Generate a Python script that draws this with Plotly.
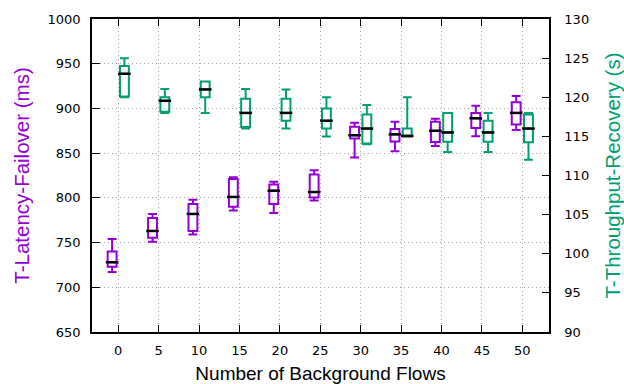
import plotly.graph_objects as go

flows = [0, 5, 10, 15, 20, 25, 30, 35, 40, 45, 50]

# T-Latency-Failover (ms), left axis
lat_low = [717, 751, 759, 786, 783, 797, 845, 852, 858, 869, 876]
lat_q1 = [723, 755.5, 763, 790, 793, 800.5, 866.5, 863, 862.5, 878, 882]
lat_med = [728, 763, 782, 801, 808, 806.5, 870, 871, 875, 889, 895]
lat_q3 = [740, 777.5, 793, 821, 815, 826, 879.5, 877, 885, 895, 907]
lat_high = [754, 782, 798, 823, 818, 831, 884, 885, 888.5, 903, 914]

# T-Throughput-Recovery (s), right axis
thr_low = [120.0, 118.0, 118.0, 116.0, 116.0, 115.0, 114.0, 115.0, 113.0, 113.0, 112.0]
thr_q1 = [120.1, 118.15, 120.0, 116.2, 117.0, 116.0, 114.1, 115.0, 114.3, 114.3, 114.25]
thr_med = [123.0, 119.55, 121.0, 118.0, 118.0, 117.0, 116.0, 115.05, 115.5, 115.5, 116.0]
thr_q3 = [124.0, 120.0, 122.0, 119.8, 119.8, 118.55, 117.8, 116.0, 118.0, 117.0, 117.8]
thr_high = [125.0, 121.05, 122.0, 121.05, 121.0, 120.0, 119.0, 120.0, 118.0, 118.0, 118.0]

PURPLE = "#9400D3"
GREEN = "#009E73"
OFF = 0.76
W = 1.1

x_lat = [f - OFF for f in flows]
x_thr = [f + OFF for f in flows]

fig = go.Figure()
fig.add_trace(go.Box(
    x=x_lat, q1=lat_q1, median=lat_med, q3=lat_q3,
    lowerfence=lat_low, upperfence=lat_high,
    width=W, whiskerwidth=1, line=dict(color=PURPLE, width=2),
    fillcolor="rgba(255,255,255,0)", yaxis="y", showlegend=False,
    hoverinfo="skip"))
fig.add_trace(go.Box(
    x=x_thr, q1=thr_q1, median=thr_med, q3=thr_q3,
    lowerfence=thr_low, upperfence=thr_high,
    width=W, whiskerwidth=1, line=dict(color=GREEN, width=2),
    fillcolor="rgba(255,255,255,0)", yaxis="y2", showlegend=False,
    hoverinfo="skip"))
fig.add_trace(go.Scatter(
    x=x_lat, y=lat_med, mode="markers", yaxis="y", showlegend=False,
    hoverinfo="skip",
    marker=dict(symbol="line-ew", size=9, line=dict(color="black", width=2.5))))
fig.add_trace(go.Scatter(
    x=x_thr, y=thr_med, mode="markers", yaxis="y2", showlegend=False,
    hoverinfo="skip",
    marker=dict(symbol="line-ew", size=9, line=dict(color="black", width=2.5))))

tickfont = dict(family="DejaVu Sans", size=13, color="black")
grid = dict(showgrid=True, gridcolor="#a8a8a8", griddash="1px,3px", gridwidth=1)
fig.update_layout(
    width=624, height=384,
    margin=dict(l=92, r=75, t=19, b=52, autoexpand=False),
    plot_bgcolor="white", paper_bgcolor="white",
    xaxis=dict(
        range=[-3.25, 53.3], tickmode="array", tickvals=flows,
        ticktext=[str(f) for f in flows],
        ticks="inside", ticklen=7, tickcolor="black", ticklabelstandoff=6,
        showline=True, linecolor="black", linewidth=1.5, mirror="ticks",
        zeroline=False, tickfont=tickfont, automargin=False,
        title=dict(text="Number of Background Flows",
                   font=dict(family="Liberation Sans", size=19, color="black"),
                   standoff=9),
        **grid),
    yaxis=dict(
        range=[650, 1000], dtick=50,
        ticks="inside", ticklen=8, tickcolor="black", ticklabelstandoff=7,
        showline=True, linecolor="black", linewidth=1.5,
        zeroline=False, tickfont=tickfont, automargin=False,
        title=dict(text="T-Latency-Failover (ms)",
                   font=dict(family="Liberation Sans", size=20.5, color=PURPLE),
                   standoff=12),
        **grid),
    yaxis2=dict(
        range=[90, 130], dtick=5, overlaying="y", side="right",
        ticks="inside", ticklen=7, tickcolor="black", ticklabelstandoff=11,
        showline=True, linecolor="black", linewidth=1.5,
        showgrid=False, zeroline=False, tickfont=tickfont, automargin=False,
        title=dict(text="T-Throughput-Recovery (s)",
                   font=dict(family="Liberation Sans", size=20.5, color=GREEN),
                   standoff=17)),
)

fig.write_html("out.html", config={"displayModeBar": False},
               post_script="document.body.style.margin='0';")
